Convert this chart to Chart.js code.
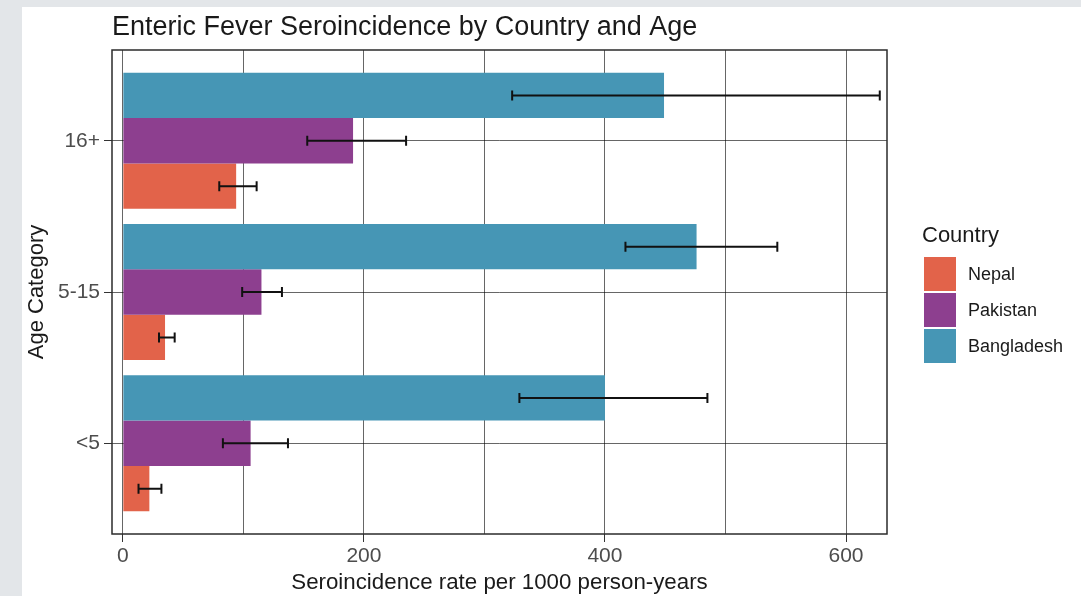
<!DOCTYPE html>
<html>
<head>
<meta charset="utf-8">
<title>Enteric Fever Seroincidence</title>
<script src="https://cdn.jsdelivr.net/npm/chart.js@4/dist/chart.umd.min.js"></script>
<style>
  html, body { margin: 0; padding: 0; background: #e3e6e9; }
  #wrap { position: absolute; left: 22px; top: 7px; width: 1059px; height: 589px; background: #fff; }
</style>
</head>
<body>
<div id="wrap"><canvas id="chart"></canvas></div>
<script>
// age groups, top to bottom
const ageGroups = ['16+', '5-15', '<5'];

// estimates and 95% CI, per 1000 person-years
const bangladesh = [449, 476, 400];
const bangladeshLow = [323, 417, 329];
const bangladeshHigh = [628, 543, 485];

const pakistan = [191, 115, 106];
const pakistanLow = [153, 99, 83];
const pakistanHigh = [235, 132, 137];

const nepal = [94, 35, 22];
const nepalLow = [80, 30, 13];
const nepalHigh = [111, 43, 32];

const xTicks = [0, 200, 400, 600];

const colors = { Nepal: '#e2634a', Pakistan: '#8d3f8f', Bangladesh: '#4696b5' };
const font = "'Liberation Sans', Arial, sans-serif";

const toPoints = (vals) => vals.map((v, i) => ({ x: v, y: i }));

const series = [
    { label: 'Bangladesh', data: bangladesh, low: bangladeshLow, high: bangladeshHigh },
    { label: 'Pakistan', data: pakistan, low: pakistanLow, high: pakistanHigh },
    { label: 'Nepal', data: nepal, low: nepalLow, high: nepalHigh }
];

// error bars drawn on top of the bars
const errorBars = {
    id: 'errorBars',
    afterDatasetsDraw(chart) {
        const ctx = chart.ctx;
        const xs = chart.scales.x;
        ctx.save();
        ctx.strokeStyle = '#111';
        ctx.lineWidth = 2;
        series.forEach((s, di) => {
            const meta = chart.getDatasetMeta(di);
            meta.data.forEach((bar, j) => {
                const x1 = xs.getPixelForValue(s.low[j]);
                const x2 = xs.getPixelForValue(s.high[j]);
                const y = bar.y;
                ctx.beginPath();
                ctx.moveTo(x1, y); ctx.lineTo(x2, y);
                ctx.moveTo(x1, y - 5); ctx.lineTo(x1, y + 5);
                ctx.moveTo(x2, y - 5); ctx.lineTo(x2, y + 5);
                ctx.stroke();
            });
        });
        ctx.restore();
    }
};

// panel border, title and legend
const decorations = {
    id: 'decorations',
    afterDraw(chart) {
        const ctx = chart.ctx;
        const a = chart.chartArea;
        ctx.save();
        ctx.strokeStyle = '#2b2b2b';
        ctx.lineWidth = 1.5;
        ctx.strokeRect(a.left, a.top, a.right - a.left, a.bottom - a.top);

        ctx.fillStyle = '#1a1a1a';
        ctx.textBaseline = 'middle';
        ctx.font = '27px ' + font;
        ctx.fillText('Enteric Fever Seroincidence by Country and Age', a.left, 21);

        const lx = a.right + 37;
        const ly = (a.top + a.bottom) / 2;
        ctx.font = '22px ' + font;
        ctx.fillText('Country', lx - 2, ly - 56);
        ['Nepal', 'Pakistan', 'Bangladesh'].forEach((name, i) => {
            const y = ly - 35 + i * 36;
            ctx.fillStyle = colors[name];
            ctx.fillRect(lx, y, 32, 34);
            ctx.fillStyle = '#1a1a1a';
            ctx.font = '18px ' + font;
            ctx.fillText(name, lx + 44, y + 18);
        });
        ctx.restore();
    }
};

new Chart(document.getElementById('chart'), {
    type: 'bar',
    data: {
        datasets: series.map(s => ({
            label: s.label,
            data: toPoints(s.data),
            backgroundColor: colors[s.label],
            borderWidth: 0,
            categoryPercentage: 0.9,
            barPercentage: 1.0
        }))
    },
    options: {
        indexAxis: 'y',
        responsive: true,
        maintainAspectRatio: false,
        animation: false,
        layout: { padding: { left: 0, top: 43, right: 194, bottom: 0 } },
        plugins: {
            legend: { display: false },
            title: { display: false },
            tooltip: { enabled: false }
        },
        scales: {
            x: {
                type: 'linear',
                min: -9,
                max: 634,
                afterFit: (scale) => { scale.height = 62; },
                border: { display: false },
                grid: {
                    color: 'rgba(0,0,0,0.6)',
                    lineWidth: 1,
                    tickLength: 8,
                    tickColor: (c) => xTicks.includes(c.tick.value) ? '#333' : 'rgba(0,0,0,0)'
                },
                ticks: {
                    stepSize: 100,
                    includeBounds: false,
                    autoSkip: false,
                    maxRotation: 0,
                    padding: 2,
                    color: '#4d4d4d',
                    font: { family: font, size: 21 },
                    callback: (v) => xTicks.includes(v) ? String(v) : ''
                },
                title: {
                    display: true,
                    text: 'Seroincidence rate per 1000 person-years',
                    color: '#1a1a1a',
                    font: { family: font, size: 22.3 },
                    padding: 0
                }
            },
            y: {
                type: 'linear',
                min: -0.6,
                max: 2.6,
                reverse: true,
                offset: false,
                afterFit: (scale) => { scale.width = 90; },
                border: { display: false },
                grid: {
                    offset: false,
                    color: 'rgba(0,0,0,0.6)',
                    lineWidth: 1,
                    tickLength: 8,
                    tickColor: '#333'
                },
                ticks: {
                    stepSize: 1,
                    includeBounds: false,
                    padding: 4,
                    color: '#4d4d4d',
                    font: { family: font, size: 21 },
                    callback: (v) => ageGroups[v] ?? ''
                },
                title: {
                    display: true,
                    text: 'Age Category',
                    color: '#1a1a1a',
                    font: { family: font, size: 22 },
                    padding: { top: 2, bottom: 0 }
                }
            }
        }
    },
    plugins: [errorBars, decorations]
});
</script>
</body>
</html>
